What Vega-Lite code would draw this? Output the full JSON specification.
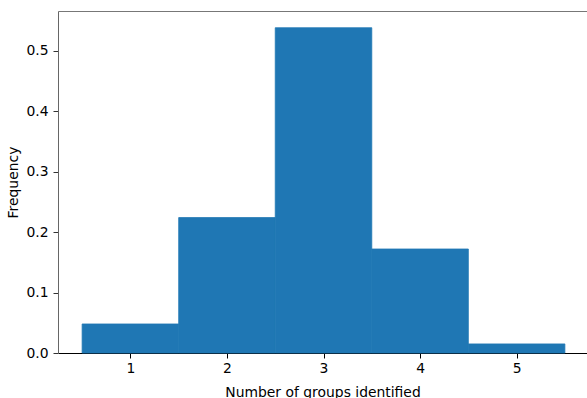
{
  "$schema": "https://vega.github.io/schema/vega-lite/v6.json",
  "width": 529,
  "height": 342,
  "autosize": {"type": "none"},
  "padding": {"left": 58, "top": 11, "right": 0, "bottom": 45},
  "background": "white",
  "config": {"view": {"stroke": null}, "font": "DejaVu Sans"},
  "data": {
    "values": [
      {"groups": 1, "start": 0.5, "end": 1.5, "freq": 0.048},
      {"groups": 2, "start": 1.5, "end": 2.5, "freq": 0.224},
      {"groups": 3, "start": 2.5, "end": 3.5, "freq": 0.538},
      {"groups": 4, "start": 3.5, "end": 4.5, "freq": 0.172},
      {"groups": 5, "start": 4.5, "end": 5.5, "freq": 0.015}
    ]
  },
  "layer": [
    {
      "mark": {"type": "bar", "color": "#1f77b4", "stroke": "#1f77b4", "strokeWidth": 0.8, "strokeJoin": "miter", "cornerRadius": 0},
      "encoding": {
        "x": {
          "field": "start",
          "type": "quantitative",
          "scale": {"domain": [0.25, 5.729], "nice": false, "zero": false, "padding": 0},
          "axis": {
            "values": [1, 2, 3, 4, 5],
            "format": "d",
            "grid": false,
            "labelFont": "DejaVu Sans",
            "labelFontSize": 13.9,
            "labelColor": "#000000",
            "labelFlush": false,
            "labelOverlap": false,
            "labelPadding": 3,
            "tickSize": 5,
            "tickColor": "#000000",
            "domainColor": "#000000",
            "title": "Number of groups identified",
            "titleFont": "DejaVu Sans",
            "titleFontSize": 13.9,
            "titleFontWeight": "normal",
            "titleColor": "#000000",
            "titleBaseline": "alphabetic",
            "titleY": 43
          }
        },
        "x2": {"field": "end"},
        "y": {
          "field": "freq",
          "type": "quantitative",
          "scale": {"domain": [0, 0.5657], "nice": false, "padding": 0},
          "axis": {
            "values": [0, 0.1, 0.2, 0.3, 0.4, 0.5],
            "format": ".1f",
            "grid": false,
            "labelFont": "DejaVu Sans",
            "labelFontSize": 13.9,
            "labelColor": "#000000",
            "labelFlush": false,
            "labelOverlap": false,
            "labelPadding": 5,
            "tickSize": 5,
            "tickColor": "#333333",
            "domainColor": "#666666",
            "title": "Frequency",
            "titleFont": "DejaVu Sans",
            "titleFontSize": 13.9,
            "titleFontWeight": "normal",
            "titleColor": "#000000",
            "titleAngle": -90,
            "titleAlign": "center",
            "titleBaseline": "alphabetic",
            "titleX": -41,
            "titleY": 171
          }
        },
        "y2": {"datum": 0}
      }
    },
    {
      "mark": {"type": "bar", "opacity": 0},
      "encoding": {
        "x": {
          "field": "start",
          "type": "quantitative",
          "axis": {
            "orient": "top",
            "labels": false,
            "ticks": false,
            "grid": false,
            "title": null,
            "domainColor": "#777777"
          }
        },
        "x2": {"field": "end"}
      }
    }
  ],
  "resolve": {"axis": {"x": "independent"}}
}
